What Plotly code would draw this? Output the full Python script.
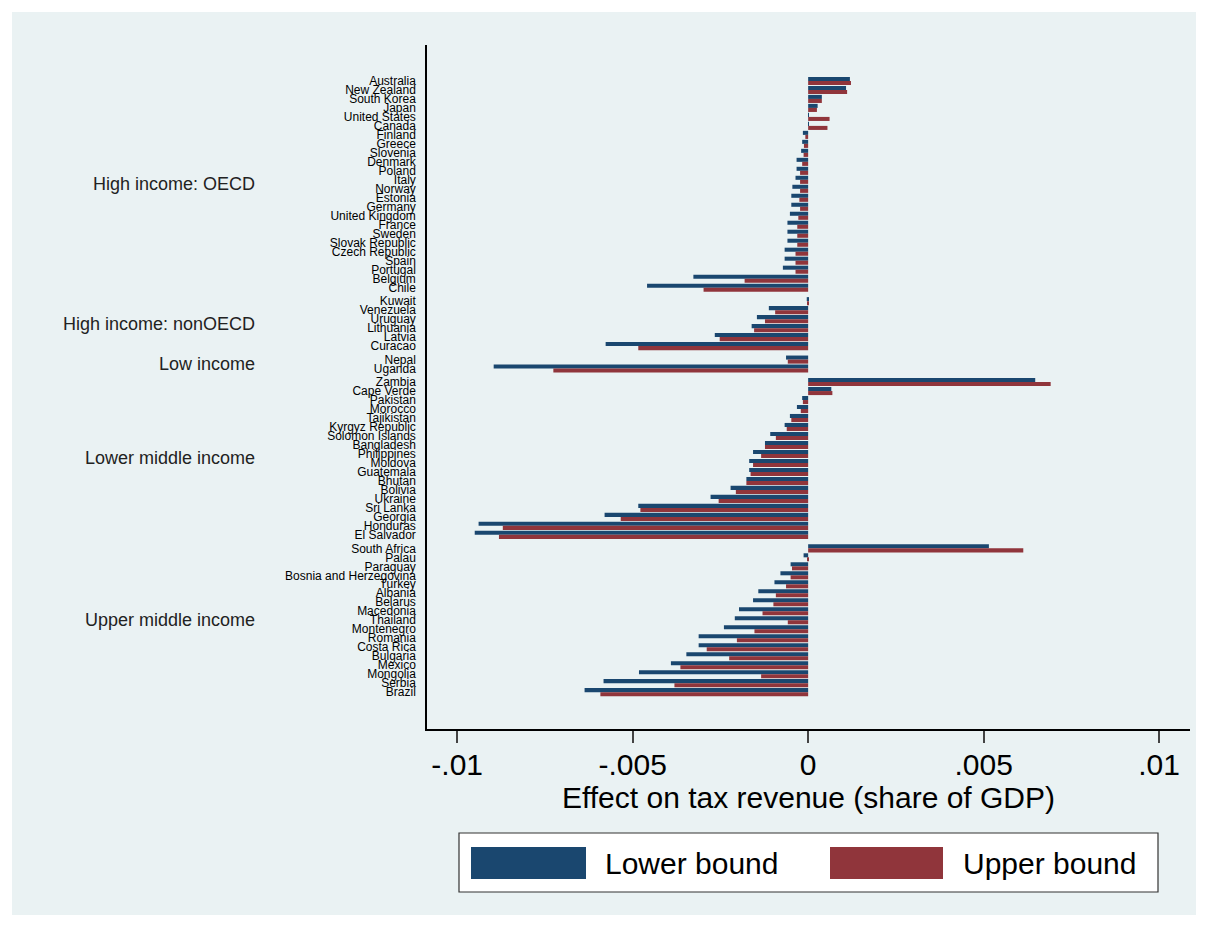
import plotly.graph_objects as go

# ---------------- data ----------------
groups = ["High income: OECD", "High income: nonOECD", "Low income",
          "Lower middle income", "Upper middle income"]

countries_oecd = ["Australia", "New Zealand", "South Korea", "Japan", "United States", "Canada",
                  "Finland", "Greece", "Slovenia", "Denmark", "Poland", "Italy", "Norway",
                  "Estonia", "Germany", "United Kingdom", "France", "Sweden", "Slovak Republic",
                  "Czech Republic", "Spain", "Portugal", "Belgium", "Chile"]
lower_oecd = [0.00119, 0.00108, 0.00039, 0.00027, 0.00002, 0.00002, -0.00015, -0.00017, -0.00020,
              -0.00033, -0.00033, -0.00036, -0.00045, -0.00048, -0.00048, -0.00052, -0.00059,
              -0.00059, -0.00059, -0.00067, -0.00067, -0.00072, -0.00327, -0.00459]
upper_oecd = [0.00122, 0.00111, 0.00039, 0.00025, 0.00061, 0.00055, -0.00008, -0.00012, -0.00013,
              -0.00017, -0.00023, -0.00023, -0.00023, -0.00025, -0.00023, -0.00028, -0.00031,
              -0.00031, -0.00031, -0.00036, -0.00036, -0.00036, -0.00181, -0.00298]

countries_nonoecd = ["Kuwait", "Venezuela", "Uruguay", "Lithuania", "Latvia", "Curacao"]
lower_nonoecd = [-0.00004, -0.00112, -0.00146, -0.00161, -0.00266, -0.00577]
upper_nonoecd = [-0.00001, -0.00094, -0.00123, -0.00154, -0.00252, -0.00484]

countries_low = ["Nepal", "Uganda"]
lower_low = [-0.00063, -0.00896]
upper_low = [-0.00058, -0.00726]

countries_lmi = ["Zambia", "Cape Verde", "Pakistan", "Morocco", "Tajikistan", "Kyrgyz Republic",
                 "Solomon Islands", "Bangladesh", "Philippines", "Moldova", "Guatemala", "Bhutan",
                 "Bolivia", "Ukraine", "Sri Lanka", "Georgia", "Honduras", "El Salvador"]
lower_lmi = [0.00647, 0.00066, -0.00017, -0.00032, -0.00052, -0.00067, -0.00108, -0.00123,
             -0.00157, -0.00168, -0.00168, -0.00176, -0.00221, -0.00278, -0.00484, -0.00580,
             -0.00939, -0.00950]
upper_lmi = [0.00691, 0.00069, -0.00015, -0.00021, -0.00048, -0.00061, -0.00092, -0.00123,
             -0.00134, -0.00157, -0.00164, -0.00176, -0.00206, -0.00255, -0.00478, -0.00534,
             -0.00870, -0.00881]

countries_umi = ["South Africa", "Palau", "Paraguay", "Bosnia and Herzegovina", "Turkey", "Albania",
                 "Belarus", "Macedonia", "Thailand", "Montenegro", "Romania", "Costa Rica",
                 "Bulgaria", "Mexico", "Mongolia", "Serbia", "Brazil"]
lower_umi = [0.00515, -0.00013, -0.00050, -0.00079, -0.00096, -0.00142, -0.00157, -0.00197,
             -0.00209, -0.00240, -0.00312, -0.00312, -0.00347, -0.00391, -0.00482, -0.00583,
             -0.00637]
upper_umi = [0.00613, -0.00002, -0.00046, -0.00050, -0.00063, -0.00092, -0.00099, -0.00130,
             -0.00058, -0.00153, -0.00203, -0.00289, -0.00225, -0.00364, -0.00134, -0.00381,
             -0.00592]

x_tickvals = [-0.01, -0.005, 0, 0.005, 0.01]
x_ticktext = ["-.01", "-.005", "0", ".005", ".01"]
x_title = "Effect on tax revenue (share of GDP)"
series_names = ["Lower bound", "Upper bound"]

# ---------------- assemble ----------------
group_countries = [countries_oecd, countries_nonoecd, countries_low, countries_lmi, countries_umi]
group_lower = [lower_oecd, lower_nonoecd, lower_low, lower_lmi, lower_umi]
group_upper = [upper_oecd, upper_nonoecd, upper_low, upper_lmi, upper_umi]

names, lows, ups, pos, group_centers = [], [], [], [], []
p = 0.0
for gi, (cs, lo, up) in enumerate(zip(group_countries, group_lower, group_upper)):
    if gi > 0:
        p += 0.5  # extra gap between groups
    start = p
    for c, l, u in zip(cs, lo, up):
        names.append(c); lows.append(l); ups.append(u); pos.append(p)
        p += 1
    group_centers.append((start + p - 1) / 2)

NAVY = "#1a476f"
MAROON = "#90353b"
BG = "#eaf2f3"
FONT = "Liberation Sans, Arial, sans-serif"

# page offset (body margin) and plot-area geometry in page pixels
OFF = 8
FW, FH = 1200, 919
L, R, T, B = 427 - OFF, 1190 - OFF, 45 - OFF, 729 - OFF
W, H = R - L, B - T
def px(x): return (x - OFF - L) / W
def py(y): return (B - (y - OFF)) / H

fig = go.Figure()
fig.add_trace(go.Bar(y=pos, x=lows, orientation="h", name=series_names[0],
                     marker=dict(color=NAVY, line=dict(width=0)), showlegend=False))
fig.add_trace(go.Bar(y=pos, x=ups, orientation="h", name=series_names[1],
                     marker=dict(color=MAROON, line=dict(width=0)), showlegend=False))

shapes = [
    dict(type="rect", xref="paper", yref="paper", x0=px(12), x1=px(1196), y0=py(915), y1=py(12),
         fillcolor=BG, line=dict(width=0), layer="below"),
    # legend box
    dict(type="rect", xref="paper", yref="paper", x0=px(459), x1=px(1158), y0=py(892), y1=py(833),
         fillcolor="white", line=dict(color="#333333", width=1.2)),
    dict(type="rect", xref="paper", yref="paper", x0=px(471), x1=px(586), y0=py(879), y1=py(847),
         fillcolor=NAVY, line=dict(width=0)),
    dict(type="rect", xref="paper", yref="paper", x0=px(830), x1=px(943), y0=py(879), y1=py(847),
         fillcolor=MAROON, line=dict(width=0)),
]

annotations = [
    dict(xref="paper", yref="paper", x=px(603), y=py(863), text=series_names[0], showarrow=False,
         xanchor="left", yanchor="middle", font=dict(family=FONT, size=30, color="black")),
    dict(xref="paper", yref="paper", x=px(961), y=py(863), text=series_names[1], showarrow=False,
         xanchor="left", yanchor="middle", font=dict(family=FONT, size=30, color="black")),
]
for g, c in zip(groups, group_centers):
    annotations.append(dict(xref="paper", yref="y", x=px(257), y=c, text=g, showarrow=False,
                            xanchor="right", yanchor="middle",
                            font=dict(family=FONT, size=18, color="#222222")))

fig.update_layout(
    width=FW, height=FH,
    margin=dict(l=L, r=FW - R, t=T, b=FH - B, pad=0),
    paper_bgcolor="white", plot_bgcolor="white",
    barmode="group", bargap=0.1, bargroupgap=0,
    shapes=shapes, annotations=annotations,
    font=dict(family=FONT, color="black"),
    xaxis=dict(range=[-0.01086, 0.01088], tickvals=x_tickvals, ticktext=x_ticktext,
               showgrid=True, gridcolor=BG, gridwidth=2.5, zeroline=False,
               showline=True, linecolor="black", linewidth=1.5,
               ticks="outside", ticklen=12, tickwidth=1.5, tickcolor="#444444",
               ticklabelstandoff=-4,
               tickfont=dict(family=FONT, size=30, color="black"),
               title=dict(text=x_title, font=dict(family=FONT, size=30, color="black"), standoff=2)),
    yaxis=dict(range=[pos[-1] + 4.1, -4.0], tickvals=pos, ticktext=names,
               showgrid=False, zeroline=False, showline=True, linecolor="black", linewidth=1.5,
               ticks="", ticklabelstandoff=7,
               tickfont=dict(family=FONT, size=12, color="black")),
)

fig.write_html("out.html")
